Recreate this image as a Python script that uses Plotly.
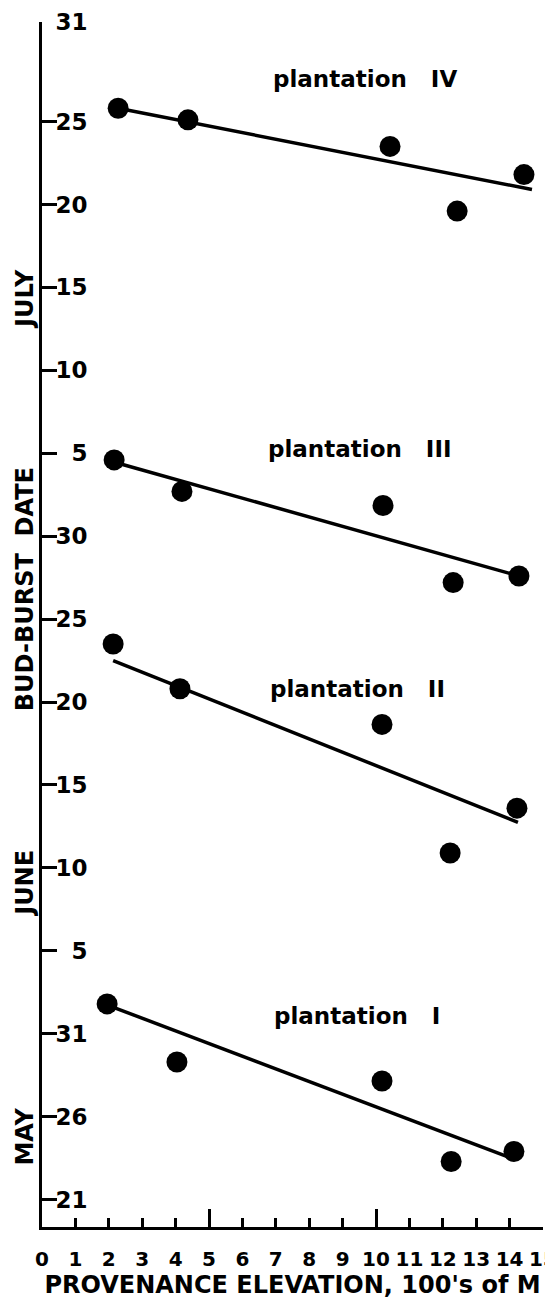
import plotly.graph_objects as go

# ---- data (elevation in 100's of m; bud-burst date as days counted from May 1) ----
elev_IV = [2.28, 4.37, 10.42, 12.43, 14.43]
day_IV = [86.8, 86.1, 84.5, 80.6, 82.8]
elev_III = [2.16, 4.19, 10.21, 12.31, 14.28]
day_III = [65.6, 63.7, 62.85, 58.2, 58.6]
elev_II = [2.13, 4.13, 10.18, 12.22, 14.22]
day_II = [54.5, 51.8, 49.65, 41.9, 44.6]
elev_I = [1.95, 4.04, 10.18, 12.25, 14.13]
day_I = [32.8, 29.3, 28.15, 23.3, 23.9]

# fitted trend lines (end points)
fit_x_IV = [2.28, 14.67]
fit_y_IV = [86.8, 81.9]
fit_x_III = [2.28, 14.28]
fit_y_III = [65.4, 58.6]
fit_x_II = [2.13, 14.25]
fit_y_II = [53.5, 43.75]
fit_x_I = [2.0, 14.13]
fit_y_I = [32.7, 23.45]

# axis ticks
y_tickvals = [21, 26, 31, 36, 41, 46, 51, 56, 61, 66, 71, 76, 81, 86, 92]
y_ticktext = ["21", "26", "31", "\u20075", "10", "15", "20", "25", "30",
              "\u20075", "10", "15", "20", "25", "31"]
x_tickvals = list(range(0, 16))
x_ticktext = [str(v) for v in x_tickvals]
x_major_ticks = [0, 5, 10, 15]

plantation_labels = ["plantation\u00a0\u00a0\u00a0IV", "plantation\u00a0\u00a0\u00a0III",
                     "plantation\u00a0\u00a0\u00a0II", "plantation\u00a0\u00a0\u00a0I"]
label_x = [9.67, 9.52, 9.46, 9.43]
label_y = [88.57, 66.28, 51.76, 32.06]

month_labels = ["JULY", "BUD-BURST\u00a0\u00a0DATE", "JUNE", "MAY"]
month_y = [75.3, 57.8, 40.1, 24.8]

FONT = "DejaVu Sans"

fig = go.Figure()
series = [(elev_IV, day_IV, fit_x_IV, fit_y_IV),
          (elev_III, day_III, fit_x_III, fit_y_III),
          (elev_II, day_II, fit_x_II, fit_y_II),
          (elev_I, day_I, fit_x_I, fit_y_I)]
for ex, dy, fx, fy in series:
    fig.add_trace(go.Scatter(x=fx, y=fy, mode="lines",
                             line=dict(color="black", width=3.5),
                             showlegend=False, hoverinfo="skip"))
    fig.add_trace(go.Scatter(x=ex, y=dy, mode="markers",
                             marker=dict(color="black", size=21),
                             showlegend=False))

# empty trace to carry the long major-tick axis
fig.add_trace(go.Scatter(x=[], y=[], xaxis="x2", showlegend=False))

for txt, lx, ly in zip(plantation_labels, label_x, label_y):
    fig.add_annotation(x=lx, y=ly, xref="x", yref="y", text=txt, showarrow=False,
                       font=dict(family=FONT, size=23, color="black", weight="bold"))

for txt, my in zip(month_labels, month_y):
    fig.add_annotation(x=-0.034, y=my, xref="paper", yref="y", text=txt,
                       xanchor="center", showarrow=False, textangle=-90,
                       font=dict(family=FONT, size=24, color="black", weight="bold"))

# the page body has an 8px default margin, so the figure is 8px smaller
fig.update_layout(
    width=545, height=1291,
    margin=dict(l=34, r=10, t=14, b=72, autoexpand=False),
    paper_bgcolor="white", plot_bgcolor="white",
    showlegend=False,
    xaxis=dict(range=[0, 15], showgrid=False, zeroline=False, automargin=False,
               showline=True, linewidth=3, linecolor="black",
               ticks="inside", ticklen=9, tickwidth=2.5, tickcolor="black",
               tickvals=x_tickvals, ticktext=x_ticktext,
               ticklabelstandoff=12, ticklabeloverflow="allow",
               tickfont=dict(family=FONT, size=20, color="black", weight="bold"),
               title=dict(text="PROVENANCE ELEVATION, 100's of M",
                          font=dict(family=FONT, size=24, color="black", weight="bold"),
                          standoff=4)),
    xaxis2=dict(range=[0, 15], overlaying="x", anchor="y", side="bottom",
                showgrid=False, zeroline=False, showline=False, automargin=False,
                ticks="inside", ticklen=18, tickwidth=2.5, tickcolor="black",
                tickvals=x_major_ticks, showticklabels=False),
    yaxis=dict(range=[19.35, 92], showgrid=False, zeroline=False, automargin=False,
               showline=True, linewidth=3, linecolor="black",
               ticks="inside", ticklen=15, tickwidth=3, tickcolor="black",
               tickvals=y_tickvals, ticktext=y_ticktext,
               ticklabelposition="inside", ticklabeloverflow="allow",
               tickfont=dict(family=FONT, size=23, color="black", weight="bold")),
)

fig.write_html("out.html")
